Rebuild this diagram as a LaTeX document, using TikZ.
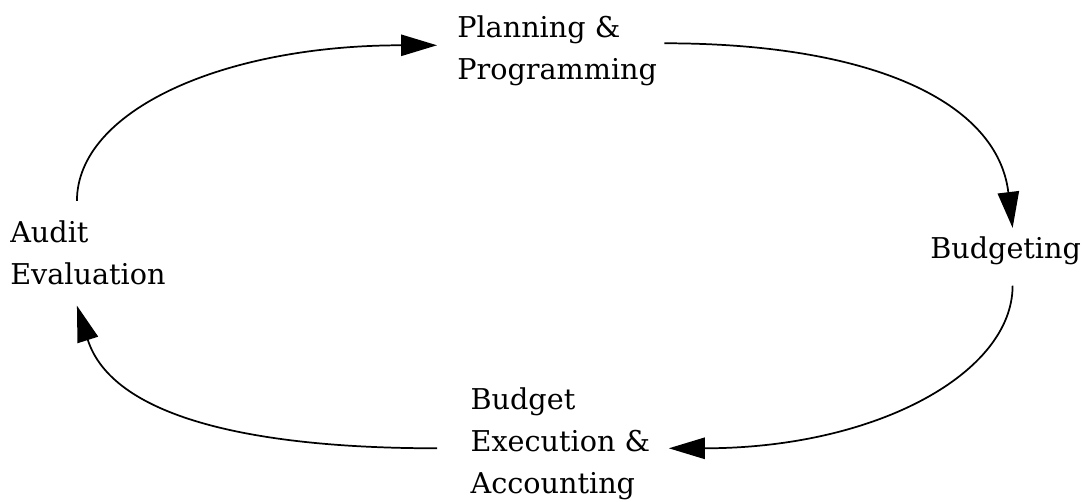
\documentclass[tikz,border=0pt]{standalone}
\usepackage{fontspec}
\setmainfont{DejaVu Serif}
\usepackage{tikz}
\usetikzlibrary{arrows.meta}

\begin{document}
\begin{tikzpicture}[x=0.75pt,y=-0.75pt,
    stage/.style={align=left,inner sep=15pt,font=\fontsize{21.5}{31.5}\selectfont},
    cycle/.style={line width=1.3pt,-{Triangle[length=27pt,width=16pt]}}]
                      \useasboundingbox (0,0) rectangle (1085,502);
                      \node[stage,anchor=base west](plan)at(437,80){Planning \&\\Programming};
                      \node[stage,anchor=base west](budg)at(910,259){Budgeting};
                      \node[stage,anchor=base west,inner xsep=25pt](exec)at(437,493){Budget\\Execution \&\\Accounting};
                      \node[stage,anchor=base west](audit)at(-10,285){Audit\\Evaluation};
                      \draw [cycle] ([shift={(-11,0)}]audit.north) .. controls +(0,-90) and +(-215,0) .. ([shift={(0,-6)}]plan.west);
                      \draw [cycle] ([shift={(-13,-8)}]plan.east) .. controls +(210,0) and +(-15,-125) .. ([shift={(7,11)}]budg.north);
                      \draw [cycle] ([shift={(7,0)}]budg.south) .. controls +(0,87) and +(208,0) .. ([shift={(-15,5)}]exec.east);
                      \draw [cycle] ([shift={(0,5)}]exec.west) .. controls +(-190,0) and +(35,110) .. ([shift={(-11,0)}]audit.south);
                  \end{tikzpicture}
\end{document}
